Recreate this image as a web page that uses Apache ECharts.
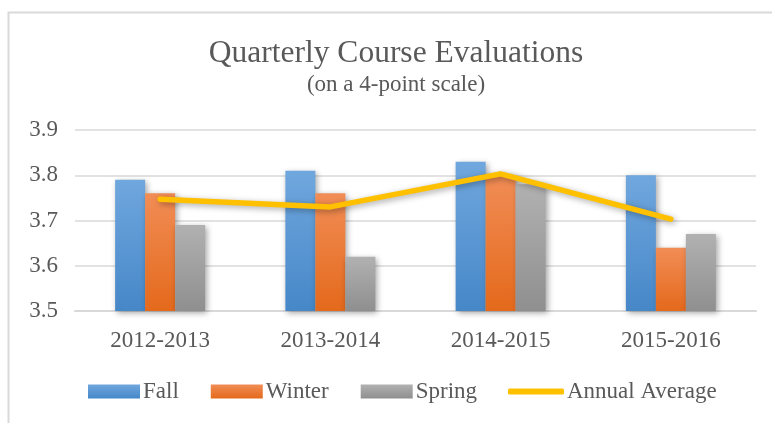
<!DOCTYPE html>
<html><head><meta charset="utf-8">
<script src="https://cdn.jsdelivr.net/npm/echarts@6/dist/echarts.min.js"></script>
<style>html,body{margin:0;padding:0;background:#fff}#c{width:772px;height:423px}</style>
</head><body><div id="c"></div>
<script>
const categories = ['2012-2013', '2013-2014', '2014-2015', '2015-2016'];
const fall = [3.79, 3.81, 3.83, 3.80];
const winter = [3.76, 3.76, 3.80, 3.64];
const spring = [3.69, 3.62, 3.78, 3.67];
const annualAverage = [3.747, 3.73, 3.803, 3.703];
const yTicks = [3.5, 3.6, 3.7, 3.8, 3.9];

const FONT = '"Liberation Serif", "DejaVu Serif", serif';
const TXT = '#595959';
function grad(top, bottom) {
  return new echarts.graphic.LinearGradient(0, 0, 0, 1, [
    {offset: 0, color: top}, {offset: 1, color: bottom}
  ]);
}
function barSeries(name, data, top, bottom) {
  return {
    name, type: 'bar', data, barWidth: 30, barGap: '0%',
    itemStyle: {color: grad(top, bottom), shadowBlur: 6, shadowColor: 'rgba(0,0,0,0.35)', shadowOffsetX: 2, shadowOffsetY: 2}
  };
}
const legendText = {fontFamily: FONT, fontSize: 23, color: TXT, padding: [0, 0, 0, -2]};
const chart = echarts.init(document.getElementById('c'));
chart.setOption({
  animation: false,
  backgroundColor: '#fff',
  graphic: [{type: 'rect', left: 6, top: 10, shape: {width: 800, height: 500},
    style: {fill: 'none', stroke: '#d9d9d9', lineWidth: 2}, silent: true}],
  title: {
    text: 'Quarterly Course Evaluations', subtext: '(on a 4-point scale)',
    left: 391, textAlign: 'center', top: 33, itemGap: 3,
    textStyle: {fontFamily: FONT, fontSize: 31.5, fontWeight: 'normal', color: TXT},
    subtextStyle: {fontFamily: FONT, fontSize: 23, color: TXT}
  },
  legend: [{
    top: 375, left: 83, itemGap: 32, itemWidth: 52, itemHeight: 14,
    textStyle: legendText,
    data: [{name: 'Fall', icon: 'rect'}, {name: 'Winter', icon: 'rect'}, {name: 'Spring', icon: 'rect'}]
  }, {
    top: 375, left: 503, itemWidth: 56, itemHeight: 6,
    textStyle: legendText,
    data: [{name: 'Annual Average', icon: 'roundRect'}]
  }],
  grid: {left: 75, right: 16, top: 130, bottom: 112},
  xAxis: {
    type: 'category', data: categories,
    axisLine: {lineStyle: {color: '#d9d9d9', width: 2}},
    axisTick: {show: false},
    axisLabel: {fontFamily: FONT, fontSize: 23, color: TXT, margin: 18}
  },
  yAxis: {
    type: 'value', min: yTicks[0], max: yTicks[yTicks.length - 1], interval: 0.1,
    axisLine: {show: false}, axisTick: {show: false},
    splitLine: {lineStyle: {color: '#d9d9d9', width: 1.5}},
    axisLabel: {fontFamily: FONT, fontSize: 23, color: TXT, margin: 17,
      formatter: v => v.toFixed(1)}
  },
  series: [
    barSeries('Fall', fall, '#70a7de', '#4687c8'),
    barSeries('Winter', winter, '#f18d56', '#e4691b'),
    barSeries('Spring', spring, '#b1b1b1', '#8f8f8f'),
    {
      name: 'Annual Average', type: 'line', data: annualAverage, symbol: 'none',
      lineStyle: {color: '#ffc000', width: 5.5, cap: 'round', join: 'round',
        shadowBlur: 6, shadowColor: 'rgba(0,0,0,0.35)', shadowOffsetX: 2, shadowOffsetY: 2},
      itemStyle: {color: '#ffc000'}, z: 5
    }
  ]
});
</script></body></html>
